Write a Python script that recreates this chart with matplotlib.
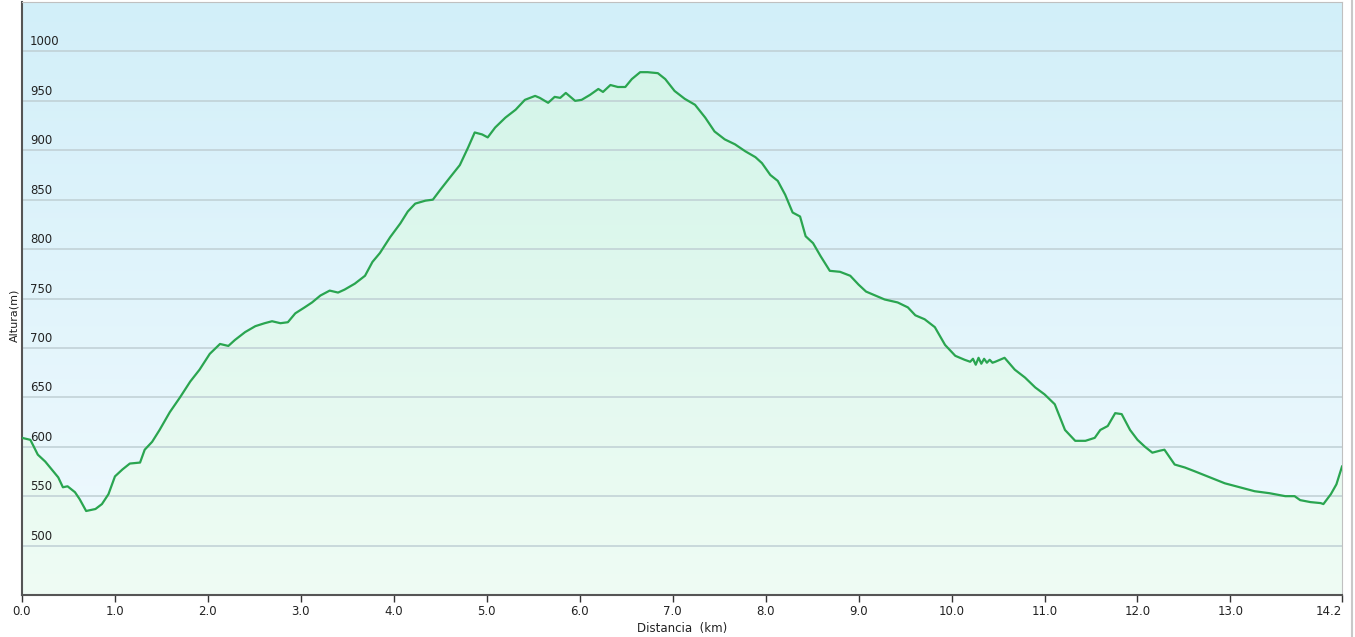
import matplotlib.pyplot as plt
import matplotlib.colors as mcolors
import numpy as np

# elevation profile
distance_km = [0.0, 0.09, 0.17, 0.25, 0.32, 0.39, 0.44, 0.49, 0.57, 0.62, 0.69, 0.79, 0.86, 0.93, 1.0,
               1.08, 1.16, 1.27, 1.32, 1.40, 1.48, 1.59, 1.70, 1.81, 1.91, 2.02, 2.13, 2.22, 2.29, 2.40,
               2.51, 2.61, 2.69, 2.78, 2.86, 2.94, 3.04, 3.12, 3.21, 3.31, 3.40, 3.47, 3.58, 3.69, 3.77,
               3.85, 3.96, 4.07, 4.15, 4.23, 4.34, 4.42, 4.50, 4.60, 4.71, 4.80, 4.87, 4.95, 5.01, 5.09,
               5.20, 5.31, 5.41, 5.52, 5.57, 5.66, 5.73, 5.79, 5.85, 5.95, 6.02, 6.11, 6.20, 6.25, 6.33,
               6.41, 6.49, 6.56, 6.65, 6.73, 6.84, 6.92, 7.02, 7.13, 7.24, 7.35, 7.45, 7.56, 7.67, 7.78,
               7.89, 7.96, 8.05, 8.13, 8.21, 8.29, 8.37, 8.43, 8.51, 8.59, 8.69, 8.80, 8.91, 9.00, 9.08,
               9.18, 9.28, 9.42, 9.53, 9.61, 9.71, 9.82, 9.93, 10.04, 10.14, 10.20, 10.23, 10.26, 10.29,
               10.32, 10.35, 10.38, 10.41, 10.44, 10.47, 10.57, 10.68, 10.79, 10.90, 11.00, 11.11, 11.22,
               11.33, 11.44, 11.54, 11.60, 11.68, 11.76, 11.83, 11.92, 12.00, 12.08, 12.16, 12.24, 12.29,
               12.40, 12.51, 12.62, 12.78, 12.94, 13.10, 13.26, 13.42, 13.59, 13.69, 13.75, 13.86, 13.97,
               14.00, 14.08, 14.14, 14.20]
altitude_m = [609, 607, 592, 585, 577, 569, 559, 560, 554, 547, 535, 537, 542, 552, 570,
              577, 583, 584, 597, 605, 617, 635, 650, 666, 678, 694, 704, 702, 708, 716,
              722, 725, 727, 725, 726, 735, 741, 746, 753, 758, 756, 759, 765, 773, 787,
              796, 812, 826, 838, 846, 849, 850, 860, 872, 885, 903, 918, 916, 913, 923,
              933, 941, 951, 955, 953, 948, 954, 953, 958, 950, 951, 956, 962, 959, 966,
              964, 964, 972, 979, 979, 978, 972, 960, 952, 946, 933, 919, 911, 906, 899,
              893, 887, 875, 869, 855, 837, 833, 813, 806, 793, 778, 777, 773, 764, 757,
              753, 749, 746, 741, 733, 729, 721, 703, 692, 688, 686, 689, 683, 690,
              684, 689, 685, 688, 685, 686, 690, 678, 670, 660, 653, 643, 617,
              606, 606, 609, 617, 621, 634, 633, 617, 607, 600, 594, 596, 597,
              582, 579, 575, 569, 563, 559, 555, 553, 550, 550, 546, 544, 543,
              542, 552, 562, 580]

y_ticks = [500, 550, 600, 650, 700, 750, 800, 850, 900, 950, 1000]
x_ticks = [0.0, 1.0, 2.0, 3.0, 4.0, 5.0, 6.0, 7.0, 8.0, 9.0, 10.0, 11.0, 12.0, 13.0, 14.2]
x_labels = ["0.0", "1.0", "2.0", "3.0", "4.0", "5.0", "6.0", "7.0", "8.0", "9.0", "10.0",
            "11.0", "12.0", "13.0", "14.2"]

x_min, x_max = 0.0, 14.2
y_min, y_max = 450, 1050

fig = plt.figure(figsize=(13.55, 6.37), dpi=100)
ax = fig.add_axes([22 / 1355, 42 / 637, 1320 / 1355, 593 / 637])

# sky gradient background
sky = mcolors.LinearSegmentedColormap.from_list("sky", ["#f1fafe", "#d2eff9"])
grad = np.linspace(0, 1, 256).reshape(-1, 1)
ax.imshow(grad, cmap=sky, origin="lower", aspect="auto",
          extent=[x_min, x_max, y_min, y_max], zorder=0)

# green gradient under the profile
green = mcolors.LinearSegmentedColormap.from_list("green", ["#effcf4", "#d1f4e8"])
poly = ax.fill_between(distance_km, altitude_m, y_min, color="none", zorder=1)
fill_img = ax.imshow(grad, cmap=green, origin="lower", aspect="auto",
                     extent=[x_min, x_max, y_min, y_max], zorder=1)
fill_img.set_clip_path(poly.get_paths()[0], transform=ax.transData)

for yv in y_ticks:
    ax.axhline(yv, color="#bfcfd4", linewidth=1.1, zorder=2)
    ax.text(8 / 1320, yv + 3, str(yv), transform=ax.get_yaxis_transform(),
            fontsize=8.5, color="#222222", va="bottom", ha="left", zorder=3)

ax.plot(distance_km, altitude_m, color="#2aa550", linewidth=1.6, zorder=4)

ax.set_xlim(x_min, x_max)
ax.set_ylim(y_min, y_max)
ax.set_xticks(x_ticks)
ax.set_xticklabels(x_labels, fontsize=8.5, color="#222222")
ax.get_xticklabels()[-1].set_ha("right")
ax.set_yticks([])
ax.tick_params(axis="x", direction="out", length=5, width=1, color="#333333", pad=2)

ax.spines["left"].set_color("#555555")
ax.spines["bottom"].set_color("#555555")
ax.spines["left"].set_linewidth(1.5)
ax.spines["bottom"].set_linewidth(1.5)
ax.spines["top"].set_color("#c0c0c0")
ax.spines["right"].set_color("#c0c0c0")

ax.set_xlabel("Distancia  (km)", fontsize=8.5, color="#222222", labelpad=3)
fig.text(14 / 1355, 1 - 315 / 637, "Altura(m)", rotation=90, fontsize=8,
         color="#222222", ha="center", va="center")

# thin frame line at the far right
fig.add_artist(plt.Line2D([1352 / 1355, 1352 / 1355], [0, 1], color="#c8c8c8",
                          linewidth=1.5, transform=fig.transFigure))

fig.savefig("out.png", dpi=100)
